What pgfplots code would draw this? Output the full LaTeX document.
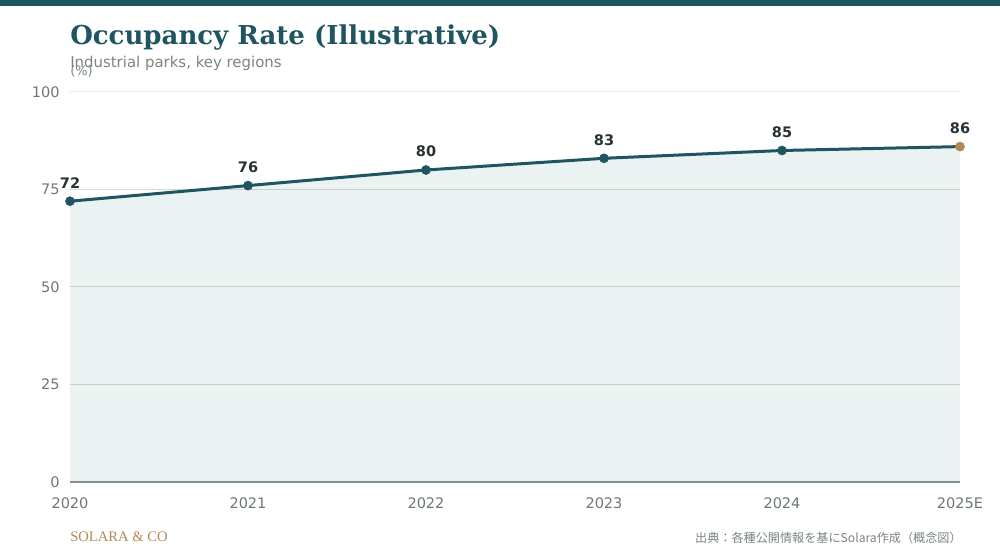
\documentclass[border=0pt]{standalone}
\usepackage{pgfplots}
\pgfplotsset{compat=1.18}
\usepackage{fontspec}
\setmainfont{DejaVu Sans}
\newfontfamily\titlefont{DejaVu Serif}
\newfontfamily\brandfont{Liberation Serif}
\newfontfamily\cjk{Noto Sans CJK JP}
\definecolor{teal1}{HTML}{1F5560}
\definecolor{fillc}{HTML}{206A6A}
\definecolor{gold1}{HTML}{B08A50}
\definecolor{tickgray}{HTML}{6E7873}
\definecolor{subgray}{HTML}{7A8580}
\definecolor{gridc}{HTML}{DCD8D0}
\definecolor{gridtop}{HTML}{ECE8E2}
\definecolor{basec}{HTML}{8A928C}
\definecolor{labc}{HTML}{26332F}
\begin{document}
\begin{tikzpicture}[x=0.75pt,y=0.75pt]
\useasboundingbox (0,0) rectangle (1000,560);
\fill[teal1] (0,554) rectangle (1000,560);
\node[anchor=base west, inner sep=0pt, text=teal1, font=\titlefont\bfseries\fontsize{19.5pt}{22pt}\selectfont] at (70,515) {Occupancy Rate (Illustrative)};
\node[anchor=base west, inner sep=0pt, text=subgray, font=\fontsize{11.2pt}{12pt}\selectfont] at (70,492) {Industrial parks, key regions};
\node[anchor=base west, inner sep=0pt, text=subgray, font=\fontsize{9.75pt}{11pt}\selectfont] at (70,484) {(\%)};
\node[anchor=base west, inner sep=0pt, text=gold1, font=\brandfont\fontsize{10.95pt}{12pt}\selectfont] at (70,18) {SOLARA \& CO};
\node[anchor=base east, inner sep=0pt, text=subgray, font=\cjk\fontsize{9.1pt}{10pt}\selectfont] at (962,17.5) {出典：各種公開情報を基にSolara作成（概念図）};
\begin{axis}[
  at={(52.5pt,58.5pt)}, anchor=south west,
  scale only axis, width=667.5pt, height=292.5pt,
  xmin=0, xmax=5, ymin=0, ymax=100,
  clip=false,
  axis x line*=bottom, axis y line*=left,
  x axis line style={draw=basec, line width=1.3pt, -},
  y axis line style={draw=none},
  xtick={0,1,2,3,4,5},
  xticklabels={2020,2021,2022,2023,2024,2025E},
  ytick={0,25,50,75,100},
  major tick length=0pt,
  ymajorgrids,
  grid style={draw=gridc, line width=0.75pt},
  /pgf/number format/assume math mode=true,
  ticklabel style={font=\fontsize{10.9pt}{12pt}\selectfont, text=tickgray, inner sep=0pt},
  yticklabel style={anchor=east, xshift=-7.5pt},
  xticklabel style={anchor=north, yshift=-11.5pt},
  extra y ticks={100}, extra y tick labels={},
  extra y tick style={grid style={draw=gridtop, line width=0.75pt}},
]
\addplot[fill=fillc, fill opacity=0.09, draw=none] coordinates {(0,72) (1,76) (2,80) (3,83) (4,85) (5,86)} \closedcycle;
\addplot[color=teal1, line width=2.25pt, mark=none] coordinates {(0,72) (1,76) (2,80) (3,83) (4,85) (5,86)};
\addplot[color=teal1, only marks, mark=*, mark size=3.4pt,
  mark options={solid, fill=teal1, draw=teal1, line width=0.4pt},
  nodes near coords, nodes near coords align={anchor=south},
  every node near coord/.append style={font=\bfseries\fontsize{10.9pt}{12pt}\selectfont, text=labc, inner sep=0pt, yshift=9.5pt}]
  coordinates {(0,72) (1,76) (2,80) (3,83) (4,85)};
\addplot[color=gold1, only marks, mark=*, mark size=3.4pt,
  mark options={solid, fill=gold1, draw=gold1, line width=0.4pt},
  nodes near coords, nodes near coords align={anchor=south},
  every node near coord/.append style={font=\bfseries\fontsize{10.9pt}{12pt}\selectfont, text=labc, inner sep=0pt, yshift=9.5pt}]
  coordinates {(5,86)};
\end{axis}
\end{tikzpicture}
\end{document}
